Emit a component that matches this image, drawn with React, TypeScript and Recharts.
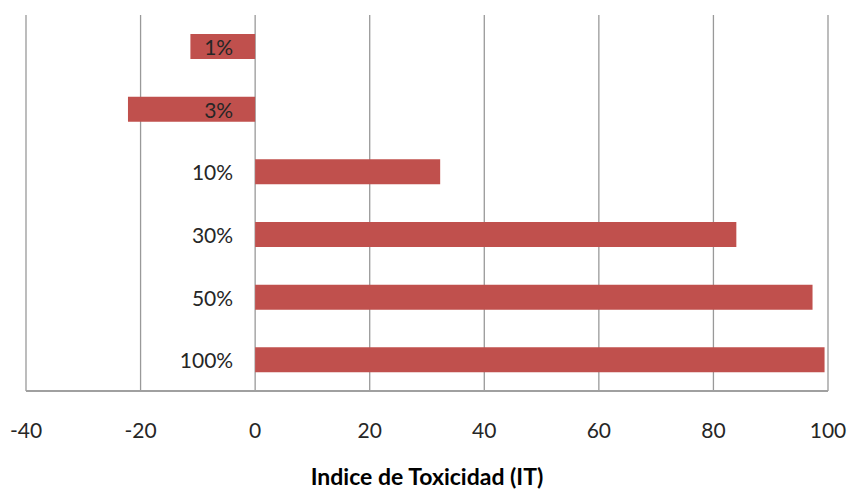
import { BarChart, Bar, XAxis, YAxis, CartesianGrid, LabelList } from 'recharts'

const categories = ['1%', '3%', '10%', '30%', '50%', '100%']
const itValues = [-11.3, -22.2, 32.3, 84, 97.3, 99.4]
const xTicks = [-40, -20, 0, 20, 40, 60, 80, 100]

const data = categories.map((name, i) => ({ name, it: itValues[i] }))

const FONT = 'Lato, "DejaVu Sans Condensed", sans-serif'

// Excel puts the category names next to the zero line, not at the plot's left edge
function CategoryLabel(props: any) {
  const { x, y, height, value } = props
  return (
    <text
      x={x - 22}
      y={y + height / 2}
      textAnchor="end"
      dominantBaseline="central"
      fontFamily={FONT}
      fontSize={21}
      fill="#262626"
    >
      {value}
    </text>
  )
}

export default function App() {
  return (
    <div style={{ position: 'absolute', left: 0, top: 0, background: '#fff' }}>
      <BarChart
        width={847}
        height={491}
        data={data}
        layout="vertical"
        barSize={25}
        margin={{ top: 15, right: 19, left: 26, bottom: 0 }}
      >
        <CartesianGrid horizontal={false} stroke="#999" strokeWidth={1.3} />
        <XAxis
          type="number"
          domain={[-40, 100]}
          ticks={xTicks}
          height={100}
          tickLine={false}
          tickSize={0}
          tickMargin={32}
          axisLine={{ stroke: '#a0a0a0', strokeWidth: 2 }}
          tick={{ fontFamily: FONT, fontSize: 21, fill: '#262626' }}
          label={{
            value: 'Indice de Toxicidad (IT)',
            position: 'insideBottom',
            offset: 6,
            style: { fontFamily: FONT, fontSize: 23, fontWeight: 700, fill: '#000' },
          }}
        />
        <YAxis type="category" dataKey="name" hide />
        <Bar dataKey="it" fill="#c0504d" isAnimationActive={false}>
          <LabelList dataKey="name" content={<CategoryLabel />} />
        </Bar>
      </BarChart>
    </div>
  )
}
